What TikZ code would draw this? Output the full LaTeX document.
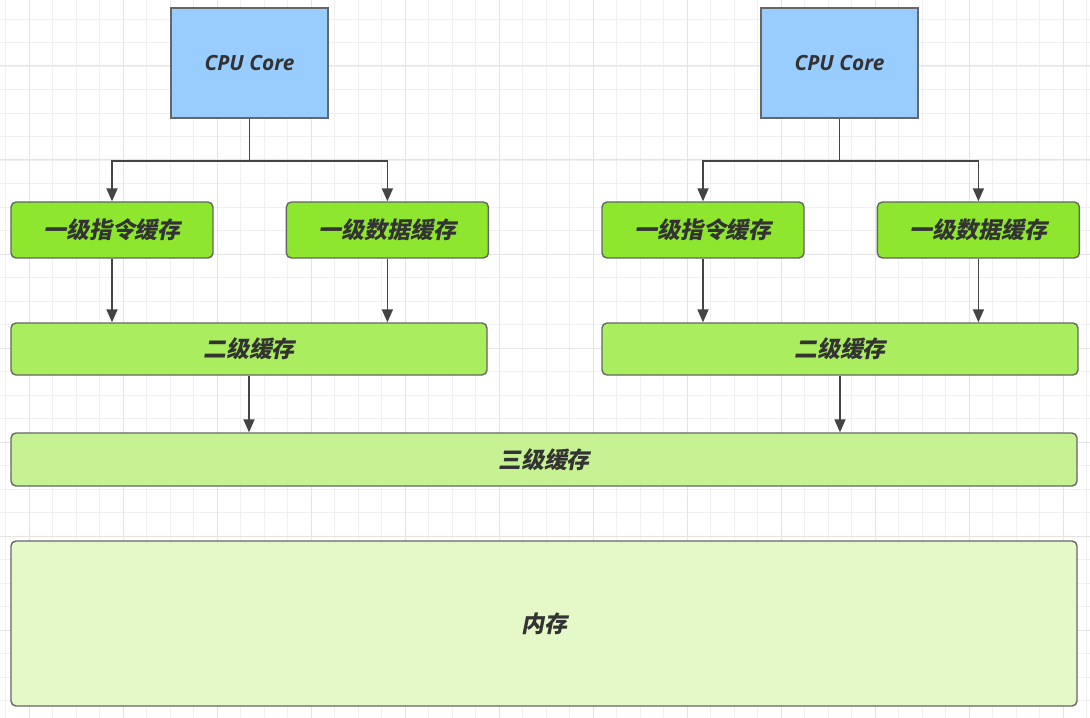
\documentclass[tikz,border=0pt]{standalone}
\usepackage{fontspec}
\setmainfont{Open Sans}
\newfontfamily\cjk[FakeSlant=0.2]{Noto Sans CJK SC}
\usetikzlibrary{arrows.meta, positioning}
\definecolor{ccpu}{HTML}{99CCFF}
\definecolor{clone}{HTML}{8EE62E}
\definecolor{cltwo}{HTML}{AAEE60}
\definecolor{clthree}{HTML}{C6F294}
\definecolor{cmem}{HTML}{E5F9C8}
\definecolor{cframe}{HTML}{666666}
\definecolor{cline}{HTML}{444444}
\definecolor{ctext}{HTML}{333333}
\definecolor{cgrid}{HTML}{F0F0F0}
\definecolor{cgridmaj}{HTML}{E4E4E4}

\begin{document}
\begin{tikzpicture}[
  x=1bp, y=-1bp,
  >={Triangle[length=13bp, width=11bp]},
  every node/.style={align=center, text=ctext},
  cpu/.style={draw=cframe, fill=ccpu, line width=1.4bp,
              minimum width=157bp, minimum height=110bp,
              font=\fontsize{21}{26}\selectfont\bfseries\itshape},
  lone/.style={draw=cframe, fill=clone, rounded corners=5bp, line width=1.4bp,
               minimum width=202bp, minimum height=56bp,
               font=\fontsize{23}{27}\selectfont\cjk\bfseries},
  ltwo/.style={lone, fill=cltwo, minimum width=476bp, minimum height=52bp},
  lthree/.style={lone, fill=clthree, minimum width=1066bp, minimum height=53bp},
  mem/.style={lone, fill=cmem, minimum width=1066bp, minimum height=165bp},
  arr/.style={->, line width=1.8bp, draw=cline},
  gridln/.style={draw=cgrid, line width=0.8bp},
  gridmaj/.style={draw=cgridmaj, line width=1bp},
]
\useasboundingbox (0,0) rectangle (1090,718);
% background grid
\fill[white] (0,0) rectangle (1090,718);
\foreach \k in {0,...,46} {\draw[gridln] ({5.5+23.5*\k},0) -- ++(0,718);}
\foreach \k in {0,...,29} {\draw[gridln] (0,{19+23.5*\k}) -- ++(1090,0);}
\foreach \k in {0,...,11} {\draw[gridmaj] ({29+94*\k},0) -- ++(0,718);}
\foreach \k in {0,...,6} {\draw[gridmaj] (0,{66+94*\k}) -- ++(1090,0);}

% core A
\node[cpu] (cpuA) at (249.5,63) {CPU Core};
\node[lone] (l1iA) at (112,230) {一级指令缓存};
\node[lone, right=72bp of l1iA] (l1dA) {一级数据缓存};
\node[ltwo] (l2A) at (249,349) {二级缓存};
% core B
\node[cpu] (cpuB) at (839.5,63) {CPU Core};
\node[lone] (l1iB) at (703,230) {一级指令缓存};
\node[lone, right=72bp of l1iB] (l1dB) {一级数据缓存};
\node[ltwo] (l2B) at (840,349) {二级缓存};
% shared
\node[lthree] (l3) at (544,459.5) {三级缓存};
\node[mem] (ram) at (544,623.5) {内存};

\draw[arr] (cpuA.south) -- ++(0,42) -| (l1iA.north);
\draw[arr] (cpuA.south) -- ++(0,42) -| (l1dA.north);
\draw[arr] (cpuB.south) -- ++(0,42) -| (l1iB.north);
\draw[arr] (cpuB.south) -- ++(0,42) -| (l1dB.north);
\draw[arr] (l1iA) -- (l1iA |- l2A.north);
\draw[arr] (l1dA) -- (l1dA |- l2A.north);
\draw[arr] (l1iB) -- (l1iB |- l2B.north);
\draw[arr] (l1dB) -- (l1dB |- l2B.north);
\draw[arr] (l2A) -- (l2A |- l3.north);
\draw[arr] (l2B) -- (l2B |- l3.north);
\end{tikzpicture}
\end{document}
